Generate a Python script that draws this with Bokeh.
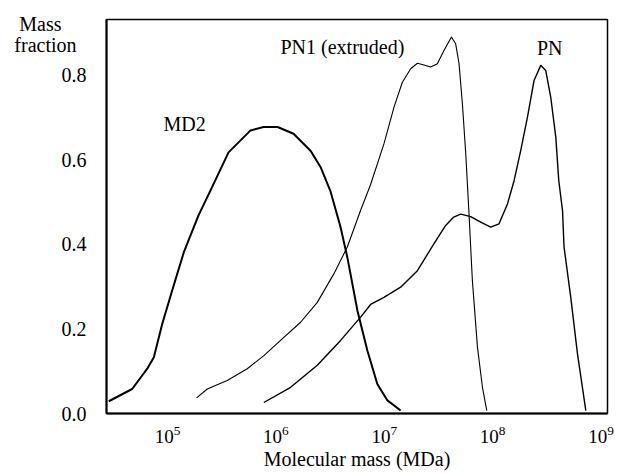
from bokeh.plotting import figure
from bokeh.models import Range1d, FixedTicker, PrintfTickFormatter, LogTickFormatter, Label
from bokeh.embed import file_html
from bokeh.resources import INLINE

# log10 of molecular mass, and mass fraction
md2_logm = [4.458, 4.674, 4.813, 4.874, 4.951, 5.043, 5.151, 5.286, 5.397, 5.563, 5.766, 5.886,
            6.016, 6.163, 6.320, 6.413, 6.505, 6.597, 6.659, 6.752, 6.844, 6.936, 7.029, 7.151]
md2_frac = [0.029, 0.058, 0.106, 0.133, 0.212, 0.291, 0.382, 0.469, 0.528, 0.618, 0.670, 0.678,
            0.678, 0.662, 0.622, 0.583, 0.525, 0.441, 0.370, 0.244, 0.149, 0.070, 0.031, 0.007]

pn1_logm = [5.268, 5.367, 5.551, 5.736, 5.889, 6.043, 6.228, 6.382, 6.536, 6.659, 6.782, 6.874,
            6.997, 7.090, 7.167, 7.244, 7.306, 7.367, 7.428, 7.490, 7.551, 7.620, 7.659, 7.690,
            7.721, 7.752, 7.782, 7.813, 7.860, 7.906, 7.946]
pn1_frac = [0.037, 0.058, 0.078, 0.106, 0.137, 0.173, 0.216, 0.263, 0.331, 0.394, 0.481, 0.542,
            0.638, 0.725, 0.784, 0.816, 0.829, 0.825, 0.820, 0.828, 0.859, 0.891, 0.875, 0.828,
            0.733, 0.615, 0.473, 0.315, 0.157, 0.062, 0.007]

pn_logm = [5.889, 6.136, 6.382, 6.597, 6.782, 6.874, 6.997, 7.151, 7.306, 7.459, 7.567, 7.641,
           7.705, 7.798, 7.890, 7.982, 8.059, 8.137, 8.198, 8.259, 8.321, 8.382, 8.444, 8.490,
           8.536, 8.583, 8.610, 8.645, 8.659, 8.721, 8.783, 8.860]
pn_frac = [0.026, 0.062, 0.114, 0.173, 0.228, 0.258, 0.275, 0.299, 0.338, 0.402, 0.445, 0.465,
           0.472, 0.466, 0.453, 0.441, 0.449, 0.496, 0.551, 0.622, 0.701, 0.788, 0.824, 0.812,
           0.749, 0.654, 0.552, 0.480, 0.394, 0.275, 0.141, 0.007]

x_ticks = [1e5, 1e6, 1e7, 1e8, 1e9]
y_ticks = [0.0, 0.2, 0.4, 0.6, 0.8]
# y-axis title lines, placed beside the top of the axis as in the original
y_title_pos = [0.923, 0.871]
y_title_text = ["Mass\u00a0\u00a0\u00a0\u00a0\u00a0", "fraction\u00a0\u00a0"]

FONT = "Liberation Serif, Times New Roman, Times, serif"

p = figure(width=617, height=474, x_axis_type="log",
           x_range=Range1d(10 ** 4.437, 10 ** 9.06), y_range=Range1d(0, 0.9325),
           output_backend="svg", toolbar_location=None,
           min_border_left=106, min_border_right=10, min_border_top=19, min_border_bottom=61)

p.line([10 ** v for v in md2_logm], md2_frac, line_color="black", line_width=2.0)
p.line([10 ** v for v in pn1_logm], pn1_frac, line_color="black", line_width=1.1)
p.line([10 ** v for v in pn_logm], pn_frac, line_color="black", line_width=1.4)

p.xgrid.visible = False
p.ygrid.visible = False
p.outline_line_color = "black"
p.outline_line_width = 1.5
p.outline_line_alpha = 1.0

for ax in (p.xaxis[0], p.yaxis[0]):
    ax.axis_line_width = 2
    ax.axis_line_color = "black"
    ax.major_tick_line_color = None
    ax.minor_tick_line_color = None
    ax.major_tick_out = 0
    ax.major_tick_in = 0
    ax.minor_tick_out = 0
    ax.minor_tick_in = 0
    ax.major_label_text_font = FONT
    ax.major_label_text_font_size = "19px"
    ax.major_label_text_color = "black"

p.xaxis.ticker = FixedTicker(ticks=x_ticks)
p.xaxis.formatter = LogTickFormatter()
p.xaxis.major_label_standoff = 12
p.xaxis.axis_label = "Molecular mass (MDa)"
p.xaxis.axis_label_text_font = FONT
p.xaxis.axis_label_text_font_size = "20px"
p.xaxis.axis_label_text_font_style = "normal"
p.xaxis.axis_label_text_color = "black"
p.xaxis.axis_label_standoff = 2

p.yaxis.ticker = FixedTicker(ticks=y_ticks + y_title_pos)
p.yaxis.formatter = PrintfTickFormatter(format="%.1f")
p.yaxis.major_label_overrides = {v: t for v, t in zip(y_title_pos, y_title_text)}
p.yaxis.major_label_standoff = 20
p.yaxis.major_label_text_font_size = "20px"

def lab(x, y, t, size="20px"):
    p.add_layout(Label(x=x, y=y, text=t, text_font=FONT, text_font_size=size,
                       text_align="center", text_baseline="middle", text_color="black"))

lab(10 ** 5.157, 0.686, "MD2")
lab(10 ** 6.614, 0.867, "PN1 (extruded)")
lab(10 ** 8.527, 0.866, "PN")

open("out.html", "w").write(file_html(p, INLINE))
